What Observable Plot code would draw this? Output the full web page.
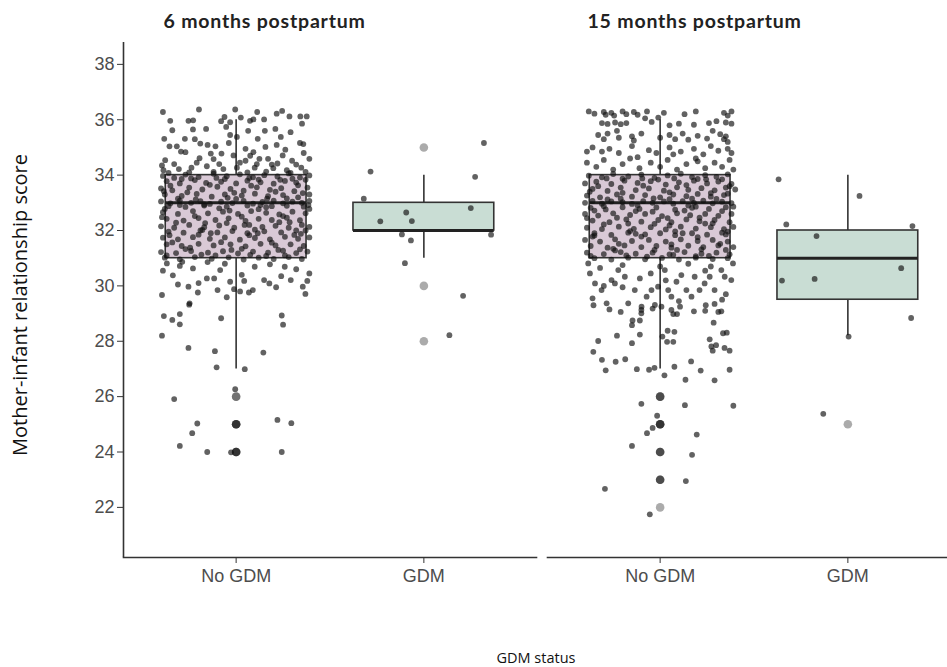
<!DOCTYPE html>
<html>
<head>
<meta charset="utf-8">
<script src="https://cdn.jsdelivr.net/npm/d3@7"></script>
<script src="https://cdn.jsdelivr.net/npm/@observablehq/plot@0.6"></script>
<style>
html, body { margin: 0; padding: 0; overflow: hidden; background: #fff; }
#chart { width: 947px; height: 667px; overflow: hidden; position: relative; }
#chart svg { max-width: none !important; }
</style>
</head>
<body>
<div id="chart"></div>
<script>
// ---------- data ----------
const facets = ["6 months postpartum", "15 months postpartum"];
const groups = ["No GDM", "GDM"];
const yTicks = [22, 24, 26, 28, 30, 32, 34, 36, 38];

// box summaries, order: 6m No GDM, 6m GDM, 15m No GDM, 15m GDM
const boxFacet  = [facets[0], facets[0], facets[1], facets[1]];
const boxGroup  = ["No GDM", "GDM", "No GDM", "GDM"];
const boxLow    = [27, 31, 27, 28.2];
const boxQ1     = [31, 32, 31, 29.5];
const boxMedian = [33, 32, 33, 31];
const boxQ3     = [34, 33, 34, 32];
const boxHigh   = [36, 34, 36, 34];

// outliers (repeated values overlap and look darker)
const out6NoGdm  = [26, 26, 25, 25, 25, 25, 24, 24, 24, 24];
const out6Gdm    = [35, 30, 28];
const out15NoGdm = [26, 26, 26, 25, 25, 25, 25, 24, 24, 24, 23, 23, 23, 22];
const out15Gdm   = [25];

// jittered observations: [jitter offset (category units), score]
const pts6NoGdm = [
  [-0.39,36.28],[-0.198,36.37],[-0.005,36.37],[0.112,36.28],[0.216,36.22],[0.245,36.32],[0.284,36.12],[0.342,36.12],[0.376,36.12],
  [-0.351,35.96],[-0.254,35.96],[-0.229,35.98],[-0.062,36.1],[-0.032,35.91],[0.025,36.08],[0.074,35.96],[0.092,36.01],[0.149,36.01],[0.351,35.86],
  [-0.34,35.62],[-0.23,35.65],[-0.16,35.67],[-0.053,35.74],[0.064,35.6],[0.153,35.6],[0.209,35.67],
  [-0.383,35.31],[-0.273,35.31],[-0.032,35.45],[0.004,35.38],[0.115,35.31],[0.238,35.38],[0.34,35.16],[0.358,35.12],
  [-0.355,35.04],[-0.316,35.04],[-0.294,34.85],[-0.191,35.14],[-0.152,35.09],[-0.11,35.04],[-0.039,35.16],[0.05,34.95],[0.092,34.83],[0.156,35.02],[0.216,35.09],[0.262,34.92],
  [0.39,34.59],[-0.378,34.54],[-0.27,34.83],[-0.195,34.61],[-0.135,34.78],[-0.078,34.78],[-0.014,34.71],[0.05,34.52],[0.124,34.59],[0.17,34.59],[0.248,34.71],[0.298,34.52],[0.347,34.27],
  [-0.387,34.18],[-0.305,34.22],[-0.238,34.27],[-0.156,34.32],[-0.068,34.22],[0.004,34.27],[0.099,34.27],[0.198,34.25],[0.27,34.18],
  [-0.33,34.4],[-0.21,34.45],[-0.09,34.4],[0.02,34.45],[0.11,34.4],[0.22,34.42],[0.32,34.38],
  [-0.36,34.08],[-0.25,34.1],[-0.12,34.12],[0.06,34.1],[0.16,34.13],[0.29,34.08],[0.37,34.12],
  [-0.39,33.97],[-0.33,33.9],[-0.27,34.02],[-0.2,33.93],[-0.12,34.05],[-0.05,33.96],[0.02,34.03],[0.09,33.92],[0.15,34.0],[0.22,33.95],[0.28,34.06],[0.34,33.91],[0.39,33.99],
  [-0.37,33.78],[-0.3,33.7],[-0.22,33.82],[-0.16,33.72],[-0.08,33.76],[0.0,33.7],[0.06,33.8],[0.13,33.74],[0.2,33.69],[0.26,33.79],[0.32,33.73],[0.37,33.83],
  [-0.4,33.52],[-0.34,33.45],[-0.25,33.55],[-0.18,33.48],[-0.1,33.58],[-0.03,33.5],[0.04,33.44],[0.11,33.56],[0.18,33.47],[0.24,33.53],[0.31,33.42],[0.38,33.55],
  [-0.38,33.3],[-0.29,33.25],[-0.21,33.32],[-0.13,33.22],[-0.06,33.3],[0.03,33.26],[0.1,33.33],[0.17,33.24],[0.25,33.28],[0.33,33.2],[0.39,33.3],
  [-0.4,33.05],[-0.35,32.98],[-0.3,33.08],[-0.24,33.0],[-0.19,33.06],[-0.14,32.96],[-0.08,33.04],[-0.02,32.99],[0.04,33.07],[0.09,32.97],[0.14,33.03],[0.2,33.08],[0.25,32.98],[0.3,33.04],[0.35,33.0],[0.39,33.07],
  [-0.36,32.88],[-0.27,32.85],[-0.17,32.9],[-0.05,32.86],[0.06,32.9],[0.16,32.84],[0.27,32.89],[0.36,32.86],
  [-0.39,32.66],[-0.31,32.6],[-0.23,32.7],[-0.15,32.62],[-0.07,32.68],[0.01,32.6],[0.08,32.7],[0.16,32.64],[0.23,32.58],[0.3,32.68],[0.37,32.62],
  [-0.37,32.42],[-0.28,32.36],[-0.2,32.45],[-0.11,32.38],[-0.04,32.44],[0.05,32.35],[0.12,32.42],[0.19,32.38],[0.27,32.46],[0.34,32.37],
  [-0.4,32.15],[-0.33,32.1],[-0.25,32.2],[-0.17,32.12],[-0.09,32.18],[-0.01,32.1],[0.07,32.2],[0.14,32.13],[0.21,32.17],[0.28,32.1],[0.35,32.2],[0.39,32.13],
  [-0.36,31.96],[-0.28,31.92],[-0.19,32.0],[-0.1,31.93],[-0.02,31.98],[0.06,31.9],[0.15,31.97],[0.24,31.93],[0.32,32.0],
  [-0.39,31.74],[-0.31,31.68],[-0.23,31.76],[-0.14,31.7],[-0.06,31.75],[0.02,31.67],[0.1,31.73],[0.18,31.68],[0.26,31.77],[0.33,31.7],[0.39,31.75],
  [-0.37,31.5],[-0.29,31.44],[-0.2,31.52],[-0.12,31.46],[-0.03,31.5],[0.05,31.43],[0.13,31.52],[0.21,31.46],[0.29,31.5],[0.36,31.44],
  [-0.4,31.22],[-0.32,31.18],[-0.24,31.26],[-0.15,31.2],[-0.07,31.25],[0.01,31.17],[0.09,31.24],[0.17,31.2],[0.25,31.27],[0.32,31.18],[0.38,31.24],
  [-0.38,31.02],[-0.3,30.96],[-0.22,31.04],[-0.13,30.98],[-0.04,31.03],[0.04,30.95],[0.12,31.02],[0.2,30.97],[0.28,31.04],[0.35,30.97],
  [-0.35,33.62],[-0.26,33.38],[-0.14,33.65],[-0.01,33.36],[0.08,33.62],[0.21,33.4],[0.33,33.63],
  [-0.38,32.78],[-0.22,32.52],[-0.09,32.8],[0.03,32.5],[0.12,32.77],[0.25,32.52],[0.39,32.78],
  [-0.32,32.28],[-0.18,32.02],[-0.05,32.27],[0.1,32.03],[0.23,32.3],[0.37,32.0],
  [-0.34,31.57],[-0.2,31.85],[-0.08,31.58],[0.07,31.83],[0.19,31.56],[0.31,31.84],
  [-0.27,31.33],[-0.11,31.1],[0.03,31.34],[0.16,31.08],[0.34,31.32],
  [-0.31,33.15],[-0.17,32.94],[0.0,33.14],[0.13,32.92],[0.27,33.16],
  [-0.24,33.88],[-0.06,33.86],[0.12,33.84],[0.3,33.87],
  [-0.385,33.42],[-0.29,33.86],[-0.215,33.12],[-0.105,33.9],[-0.045,33.18],[0.07,33.9],[0.165,33.15],[0.235,33.83],[0.355,33.35],
  [-0.395,32.48],[-0.3,32.92],[-0.165,32.27],[-0.035,32.72],[0.045,32.2],[0.19,32.88],[0.285,32.3],[0.385,32.92],
  [-0.355,31.83],[-0.245,31.38],[-0.135,31.9],[-0.025,31.3],[0.115,31.9],[0.225,31.3],[0.345,31.88],
  [-0.37,31.1],[-0.185,31.13],[0.075,31.12],[0.26,31.1],
  [-0.395,34.35],[-0.12,34.58],[0.075,34.7],[0.19,34.38],[0.36,34.8],[-0.22,35.3],[0.29,35.55],[-0.08,35.95],
  [-0.31,30.05],[0.03,30.4],[0.24,30.35],[-0.2,30.1],
  [-0.369,30.81],[-0.337,30.38],[-0.23,30.63],[-0.156,30.27],[-0.117,30.27],[-0.085,30.57],[-0.032,30.15],[-0.011,29.88],[0.043,30.18],[0.089,29.85],
  [0.099,30.69],[0.149,30.21],[0.177,30.09],[0.213,29.95],[0.259,30.69],[0.291,30.21],[0.355,29.97],[0.379,30.18],[0.369,29.71],[-0.395,29.67],
  [-0.254,29.97],[-0.204,29.76],[-0.248,29.37],[-0.05,29.59],[0.021,29.8],[0.068,29.76],[-0.099,29.85],[-0.152,30.86],[-0.287,30.87],
  [-0.39,30.55],[-0.3,30.72],[-0.06,30.8],[0.18,30.78],[0.32,30.6],[0.39,30.45],
  [-0.25,29.32],[-0.385,28.91],[-0.34,28.77],[-0.3,28.98],[-0.3,28.61],[-0.08,28.83],[0.243,28.93],[0.25,28.6],[-0.395,28.2],
  [-0.254,27.76],[-0.113,27.64],[0.145,27.59],[-0.104,27.06],[0.046,26.99],[-0.005,26.27],[-0.33,25.91],[-0.207,25.03],
  [-0.234,24.68],[-0.3,24.22],[-0.154,24.0],[0.22,25.16],[0.294,25.04],[0.243,24.0],[-0.027,23.99]
];
const pts6Gdm = [
  [-0.284,34.13],[0.32,35.16],[0.273,33.94],[-0.32,33.15],[-0.094,32.65],[-0.232,32.33],[-0.064,32.34],
  [0.25,32.81],[-0.117,31.86],[-0.069,31.64],[0.358,31.85],[-0.101,30.82],[0.209,29.64],[0.136,28.22]
];
const pts15NoGdm = [
  [-0.38,36.3],[-0.35,36.22],[-0.3,36.28],[-0.29,36.18],[-0.26,36.25],[-0.245,36.15],[-0.2,36.3],[-0.18,36.2],[-0.14,36.28],[-0.12,36.18],
  [-0.07,36.3],[-0.01,36.08],[0.02,36.25],[0.19,36.3],[0.34,36.25],[0.36,36.15],[0.38,36.3],[0.38,35.86],
  [-0.31,35.88],[-0.28,35.85],[-0.24,35.9],[-0.21,35.84],[-0.18,35.88],[-0.045,35.92],[0.05,35.8],[0.1,35.86],[0.18,35.82],[0.26,35.88],[0.35,35.9],
  [-0.33,35.45],[-0.3,35.3],[-0.28,35.5],[-0.22,35.35],[-0.15,35.4],[-0.14,35.25],[-0.1,35.5],[0.0,35.35],[0.05,35.45],[0.08,35.3],
  [0.12,35.5],[0.15,35.28],[0.2,35.42],[0.25,35.32],[0.32,35.48],[0.34,35.3],[0.35,35.4],
  [-0.36,35.0],[-0.31,34.85],[-0.27,34.95],[-0.22,34.8],[-0.15,35.05],[-0.06,34.9],[-0.02,34.8],[0.05,35.0],[0.11,34.85],[0.18,34.95],
  [0.23,34.75],[0.27,35.05],[0.31,34.88],[0.36,34.95],[0.38,34.8],
  [-0.39,34.45],[-0.34,34.3],[-0.3,34.55],[-0.25,34.2],[-0.2,34.4],[-0.16,34.6],[-0.11,34.25],[-0.05,34.45],[0.0,34.3],[0.04,34.55],
  [0.09,34.2],[0.14,34.4],[0.2,34.5],[0.24,34.25],[0.29,34.45],[0.33,34.3],[0.37,34.55],[0.39,34.2],
  [-0.38,33.98],[-0.31,33.92],[-0.25,34.04],[-0.17,33.95],[-0.1,34.02],[-0.03,33.9],[0.04,33.99],[0.11,34.05],[0.17,33.93],[0.24,34.0],[0.3,33.94],[0.36,34.03],
  [-0.4,33.7],[-0.34,33.76],[-0.26,33.68],[-0.19,33.8],[-0.12,33.72],[-0.05,33.78],[0.03,33.66],[0.1,33.74],[0.18,33.8],[0.25,33.7],[0.31,33.77],[0.38,33.68],
  [-0.36,33.5],[-0.28,33.43],[-0.21,33.55],[-0.13,33.46],[-0.06,33.52],[0.02,33.44],[0.09,33.56],[0.15,33.47],[0.22,33.53],[0.29,33.45],[0.35,33.55],[0.4,33.48],
  [-0.39,33.26],[-0.32,33.2],[-0.23,33.3],[-0.15,33.22],[-0.08,33.28],[0.0,33.2],[0.07,33.3],[0.14,33.24],[0.2,33.32],[0.27,33.22],[0.34,33.28],
  [-0.4,33.0],[-0.36,33.07],[-0.31,32.97],[-0.26,33.05],[-0.2,33.02],[-0.15,32.96],[-0.09,33.06],[-0.04,33.0],[0.02,33.05],[0.07,32.97],
  [0.12,33.06],[0.18,33.0],[0.23,33.08],[0.28,32.98],[0.33,33.04],[0.38,32.99],
  [-0.37,32.82],[-0.29,32.76],[-0.2,32.84],[-0.11,32.78],[-0.02,32.83],[0.08,32.75],[0.17,32.82],[0.26,32.78],[0.35,32.84],
  [-0.4,32.6],[-0.33,32.54],[-0.25,32.62],[-0.16,32.56],[-0.08,32.6],[0.01,32.52],[0.09,32.62],[0.16,32.55],[0.24,32.6],[0.31,32.53],[0.38,32.6],
  [-0.36,32.36],[-0.27,32.3],[-0.18,32.4],[-0.1,32.32],[-0.01,32.38],[0.06,32.3],[0.14,32.4],[0.21,32.33],[0.29,32.38],[0.37,32.3],
  [-0.39,32.1],[-0.31,32.05],[-0.22,32.14],[-0.14,32.06],[-0.05,32.12],[0.03,32.04],[0.11,32.14],[0.19,32.07],[0.27,32.12],[0.34,32.05],[0.39,32.13],
  [-0.35,31.9],[-0.26,31.84],[-0.17,31.92],[-0.08,31.86],[0.0,31.9],[0.08,31.83],[0.17,31.9],[0.25,31.85],[0.33,31.92],
  [-0.4,31.66],[-0.32,31.6],[-0.24,31.68],[-0.15,31.62],[-0.06,31.66],[0.03,31.6],[0.11,31.68],[0.2,31.62],[0.28,31.66],[0.36,31.6],
  [-0.37,31.44],[-0.28,31.38],[-0.19,31.46],[-0.1,31.4],[-0.02,31.44],[0.06,31.38],[0.15,31.45],[0.23,31.4],[0.31,31.46],[0.39,31.4],
  [-0.39,31.2],[-0.3,31.15],[-0.21,31.22],[-0.13,31.16],[-0.04,31.2],[0.05,31.14],[0.13,31.22],[0.22,31.16],[0.3,31.2],[0.37,31.14],
  [-0.35,31.0],[-0.26,30.95],[-0.17,31.02],[-0.08,30.96],[0.01,31.01],[0.1,30.95],[0.19,31.02],[0.28,30.97],[0.36,31.0],
  [-0.33,33.6],[-0.2,33.36],[-0.09,33.62],[0.05,33.38],[0.14,33.64],[0.27,33.35],[0.37,33.6],
  [-0.35,32.72],[-0.23,32.46],[-0.13,32.7],[0.04,32.45],[0.13,32.72],[0.21,32.46],[0.33,32.7],
  [-0.3,32.22],[-0.16,31.98],[-0.03,32.24],[0.08,31.97],[0.24,32.25],[0.36,31.96],
  [-0.36,31.78],[-0.22,31.52],[-0.1,31.78],[0.06,31.5],[0.2,31.76],[0.32,31.52],
  [-0.24,31.28],[-0.07,31.06],[0.09,31.3],[0.19,31.07],[0.35,31.3],
  [-0.28,33.12],[-0.12,32.9],[0.05,33.13],[0.15,32.9],[0.3,33.14],
  [-0.2,33.87],[-0.01,33.84],[0.2,33.86],[0.33,33.85],
  [-0.375,33.4],[-0.285,33.88],[-0.21,33.15],[-0.095,33.88],[-0.035,33.16],[0.075,33.88],[0.17,33.15],[0.245,33.85],[0.36,33.33],
  [-0.39,32.45],[-0.3,32.88],[-0.17,32.25],[-0.04,32.68],[0.05,32.18],[0.19,32.86],[0.28,32.26],[0.39,32.86],
  [-0.35,31.82],[-0.25,31.34],[-0.13,31.88],[-0.03,31.3],[0.12,31.9],[0.22,31.32],[0.35,31.86],
  [-0.37,31.08],[-0.18,31.1],[0.07,31.12],[0.26,31.08],
  [-0.39,34.85],[-0.12,34.65],[0.07,34.75],[0.19,34.6],[0.36,35.2],[-0.23,35.6],[0.28,35.6],[-0.08,36.05],[0.13,36.2],[0.3,35.95],
  [-0.3,30.0],[0.03,30.2],[0.24,30.55],[-0.2,29.95],[0.35,29.7],[-0.05,30.45],
  [-0.383,30.81],[-0.374,30.45],[-0.347,30.09],[-0.312,29.85],[-0.259,30.21],[-0.241,30.09],[-0.223,30.57],[-0.188,30.33],[-0.135,29.85],
  [-0.108,30.27],[-0.072,29.61],[-0.046,29.85],[-0.011,29.97],[0.025,30.57],[0.043,29.85],[0.06,29.61],[0.087,30.15],[0.113,30.39],
  [0.14,29.85],[0.167,29.61],[0.184,30.33],[0.21,29.85],[0.237,30.09],[0.264,30.33],[0.29,29.85],[0.326,30.57],[0.344,30.33],
  [0.379,30.21],[0.388,30.81],[-0.285,29.37],[-0.17,29.37],[-0.099,29.25],[-0.028,29.31],[0.007,29.25],
  [-0.2,30.75],[0.0,30.7],[0.15,30.8],[-0.32,30.65],[0.27,30.7],[0.1,29.45],[0.33,29.5],[-0.36,29.55],
  [-0.355,29.3],[-0.27,29.15],[-0.21,29.06],[-0.1,29.13],[-0.1,29.01],[-0.04,29.18],[0.06,29.13],[0.07,28.98],[0.09,28.98],[0.106,29.25],
  [0.18,29.08],[0.243,29.3],[0.24,29.1],[0.29,29.35],[0.31,29.06],[0.326,29.08],[-0.147,28.75],[-0.108,28.75],[-0.15,28.58],[0.285,28.67],
  [-0.23,28.2],[-0.108,28.24],[0.012,28.17],[0.04,28.38],[0.076,28.34],[0.335,28.29],[0.355,28.31],[-0.33,28.01],[-0.15,27.93],[0.037,27.98],
  [0.07,27.98],[0.264,28.07],[0.273,27.81],[0.298,27.86],[0.28,27.66],[0.343,27.76],[0.37,27.66],[-0.356,27.62],[-0.31,27.33],[-0.237,27.26],
  [-0.186,27.35],[-0.29,26.95],[-0.124,26.99],[-0.059,26.97],[-0.03,27.04],[0.023,26.77],[0.076,27.08],[0.165,27.27],[0.216,26.94],[0.37,26.97],
  [0.135,26.61],[0.29,26.59],[-0.1,25.74],[0.132,25.69],[0.39,25.67],[-0.016,25.31],[-0.04,24.87],[-0.07,24.68],[0.195,24.63],[-0.15,24.22],
  [0.17,23.9],[0.137,22.95],[-0.294,22.67],[-0.055,21.75]
];
const pts15Gdm = [
  [-0.369,33.85],[0.062,33.25],[-0.328,32.22],[0.344,32.16],[-0.167,31.8],[0.284,30.64],
  [-0.351,30.19],[-0.177,30.25],[0.337,28.84],[0.004,28.17],[-0.131,25.38]
];

// ---------- tables built from the arrays ----------
const boxes = boxFacet.map((f, i) => ({
  f, group: boxGroup[i], pos: groups.indexOf(boxGroup[i]) + 1,
  lo: boxLow[i], q1: boxQ1[i], med: boxMedian[i], q3: boxQ3[i], hi: boxHigh[i]
}));
const pointSets = [
  [facets[0], "No GDM", pts6NoGdm], [facets[0], "GDM", pts6Gdm],
  [facets[1], "No GDM", pts15NoGdm], [facets[1], "GDM", pts15Gdm]
];
const points = pointSets.flatMap(([f, g, arr]) =>
  arr.map(([dx, y]) => ({f, pos: groups.indexOf(g) + 1, dx, y})));
const outlierSets = [
  [facets[0], "No GDM", out6NoGdm], [facets[0], "GDM", out6Gdm],
  [facets[1], "No GDM", out15NoGdm], [facets[1], "GDM", out15Gdm]
];
const outliers = outlierSets.flatMap(([f, g, arr]) =>
  arr.map(y => ({f, pos: groups.indexOf(g) + 1, y})));

// ---------- style ----------
const xDomain = [0.4, 2.6];
const yDomain = [20.19, 38.79];
const halfBox = 0.375;
const ink = "#333333";

const plot = Plot.plot({
  width: 960,
  height: 667,
  marginLeft: 122,
  marginRight: 0,
  marginTop: 42,
  marginBottom: 110,
  style: {fontFamily: "'Liberation Sans', Arial, sans-serif", fontSize: "18px", background: "#fff"},
  fx: {domain: facets, paddingInner: 0.026, paddingOuter: 0, axis: null, label: null},
  x: {domain: xDomain, label: null},
  y: {domain: yDomain, label: null},
  color: {domain: groups, range: ["#d9c9d6", "#c9ddd4"]},
  marks: [
    Plot.ruleX(boxes, {fx: "f", x: "pos", y1: "lo", y2: "q1", stroke: ink, strokeWidth: 1.6}),
    Plot.ruleX(boxes, {fx: "f", x: "pos", y1: "q3", y2: "hi", stroke: ink, strokeWidth: 1.6}),
    Plot.rect(boxes, {fx: "f", x1: d => d.pos - halfBox, x2: d => d.pos + halfBox, y1: "q1", y2: "q3",
      fill: "group", stroke: ink, strokeWidth: 1.6}),
    Plot.ruleY(boxes, {fx: "f", x1: d => d.pos - halfBox, x2: d => d.pos + halfBox, y: "med", stroke: "#222", strokeWidth: 3}),
    Plot.dot(outliers, {fx: "f", x: "pos", y: "y", r: 4.3, fill: "#000", fillOpacity: 0.33, stroke: "none"}),
    Plot.dot(points, {fx: "f", x: d => d.pos + d.dx, y: "y", r: 2.9, fill: "#111", fillOpacity: 0.66, stroke: "none"}),
    Plot.frame({anchor: "bottom", stroke: ink, strokeWidth: 1.6}),
    Plot.ruleX([{f: facets[0]}], {fx: "f", x: xDomain[0], stroke: ink, strokeWidth: 1.6}),
    Plot.axisY({ticks: yTicks, tickSize: 6, tickPadding: 3, label: null, stroke: ink, fill: "#4d4d4d", fontSize: 18}),
    Plot.axisX({ticks: [1, 2], tickFormat: d => groups[d - 1], tickSize: 6, tickPadding: 6, label: null,
      stroke: ink, fill: "#4d4d4d", fontSize: 18}),
    Plot.text(facets, {fx: d => d, text: d => d, frameAnchor: "top-left", textAnchor: "start", lineAnchor: "bottom",
      dx: 40, dy: -15, fontWeight: "bold", fontSize: 19.5, fontFamily: "Lato, 'Open Sans', sans-serif", fill: "#222"})
  ]
});

plot.style.maxWidth = "none";
plot.style.height = "667px";
document.getElementById("chart").appendChild(plot);

const svg = d3.select(plot);
svg.selectAll("text").filter(function () { return /postpartum/.test(this.textContent); })
  .style("letter-spacing", "0.8px");
svg.append("text")
  .attr("transform", "translate(27,305) rotate(-90)")
  .attr("text-anchor", "middle")
  .style("font-family", "'Open Sans', sans-serif")
  .style("font-size", "20px")
  .attr("fill", "#111")
  .text("Mother-infant relationship score");
svg.append("text")
  .attr("x", 536)
  .attr("y", 663)
  .attr("text-anchor", "middle")
  .style("font-family", "'Open Sans', sans-serif")
  .style("font-size", "14.5px")
  .attr("fill", "#111")
  .text("GDM status");
</script>
</body>
</html>
